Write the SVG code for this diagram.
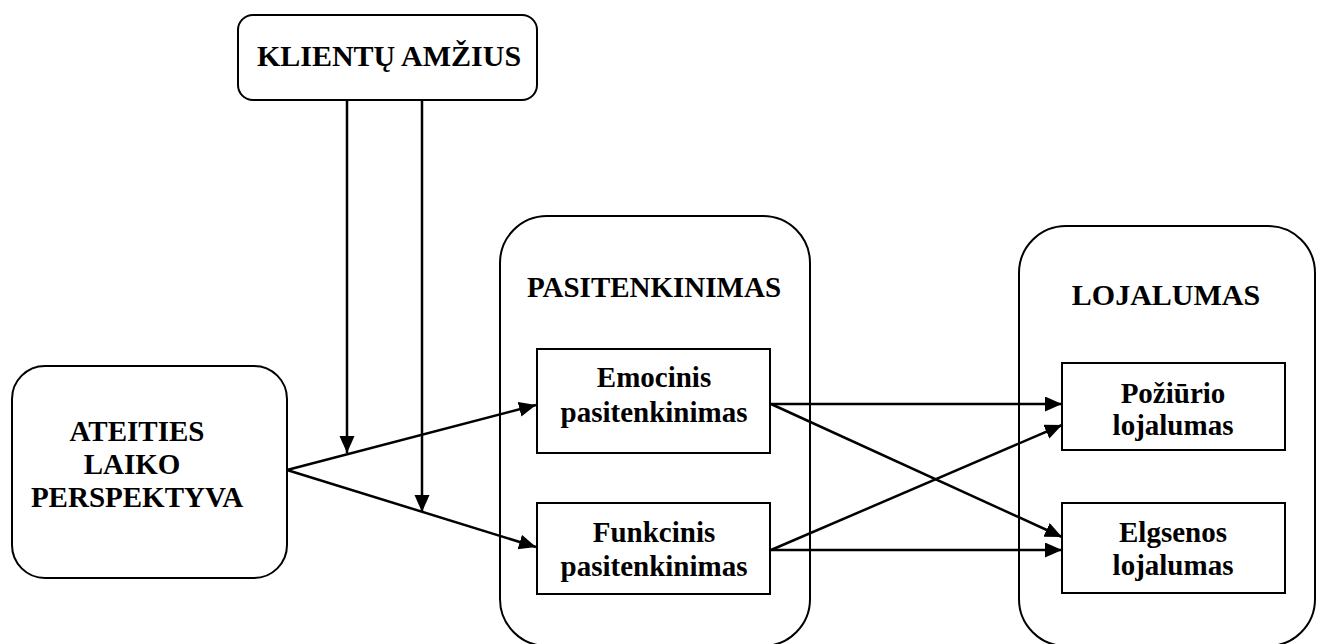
<svg xmlns="http://www.w3.org/2000/svg" width="1321" height="644" viewBox="0 0 1321 644">
<style>
.box{fill:#fff;stroke:#000;stroke-width:2}
.t{font-family:"Liberation Serif","Times New Roman",serif;font-weight:bold;font-size:29px;text-anchor:middle;fill:#000}
.big{font-size:30px}
.c{stroke:#000;stroke-width:2.5;fill:none;marker-end:url(#ah)}
</style>
<defs>
<marker id="ah" markerUnits="userSpaceOnUse" markerWidth="18" markerHeight="16" refX="17" refY="7.5" orient="auto">
<path d="M0,0 L17,7.5 L0,15 z" fill="#000"/>
</marker>
</defs>
<rect width="1321" height="644" fill="#fff"/>
<g id="pasitenkinimas">
<rect class="box" x="500" y="216" width="310" height="430" rx="47" ry="47"/>
<text class="t" x="654" y="297">PASITENKINIMAS</text>
</g>
<g id="lojalumas">
<rect class="box" x="1019" y="226" width="296" height="420" rx="47" ry="47"/>
<text class="t big" x="1166" y="305">LOJALUMAS</text>
</g>
<g id="klientu-amzius">
<rect class="box" x="238" y="15" width="299" height="85" rx="15" ry="15"/>
<text class="t big" x="389" y="66">KLIENTŲ AMŽIUS</text>
</g>
<g id="ateities">
<rect class="box" x="12" y="366" width="275" height="212" rx="33" ry="33"/>
<text class="t" x="137" y="441">ATEITIES</text>
<text class="t" x="132" y="474">LAIKO</text>
<text class="t" x="137" y="507">PERSPEKTYVA</text>
</g>
<g id="emocinis">
<rect class="box" x="537" y="349" width="233" height="104"/>
<text class="t" x="654" y="387">Emocinis</text>
<text class="t" x="654" y="422">pasitenkinimas</text>
</g>
<g id="funkcinis">
<rect class="box" x="537" y="503" width="233" height="91"/>
<text class="t" x="654" y="542">Funkcinis</text>
<text class="t" x="654" y="576">pasitenkinimas</text>
</g>
<g id="poziurio">
<rect class="box" x="1062" y="363" width="223" height="87"/>
<text class="t" x="1173" y="403">Požiūrio</text>
<text class="t" x="1173" y="435">lojalumas</text>
</g>
<g id="elgsenos">
<rect class="box" x="1062" y="503" width="223" height="90"/>
<text class="t" x="1173" y="542">Elgsenos</text>
<text class="t" x="1173" y="575">lojalumas</text>
</g>
<g id="connectors">
<line class="c" x1="347" y1="100" x2="347" y2="453"/>
<line class="c" x1="422" y1="100" x2="422" y2="512"/>
<line class="c" x1="287" y1="470" x2="536" y2="405"/>
<line class="c" x1="287" y1="470" x2="536" y2="547"/>
<line class="c" x1="771" y1="404" x2="1062" y2="404"/>
<line class="c" x1="771" y1="404" x2="1062" y2="537"/>
<line class="c" x1="771" y1="550" x2="1062" y2="425"/>
<line class="c" x1="771" y1="550" x2="1062" y2="550"/>
</g>
</svg>
